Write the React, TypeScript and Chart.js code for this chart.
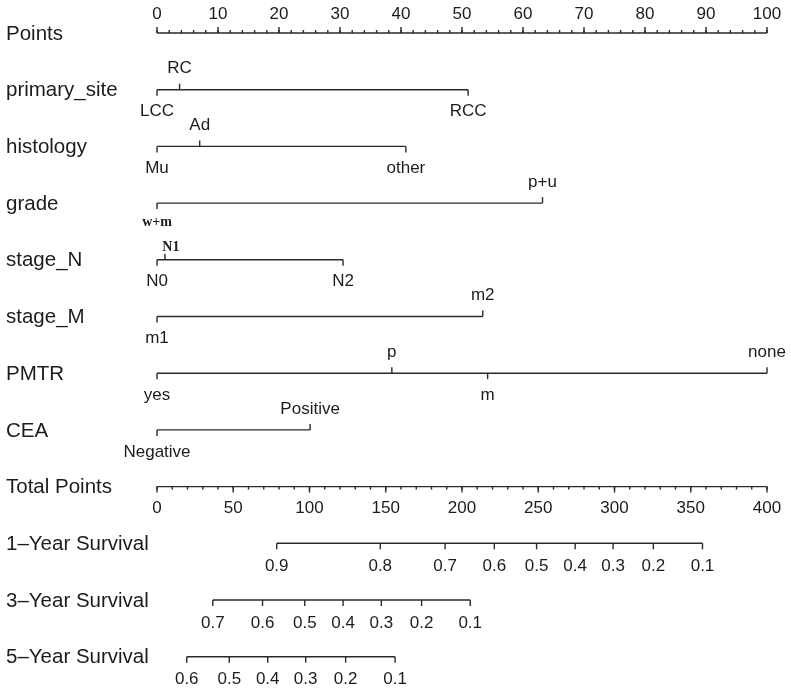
import React, { useEffect, useRef } from "react";
import { Chart, registerables } from "chart.js";

Chart.register(...registerables);

// ---- Row labels (one per nomogram row, top to bottom) ----
const rowLabels = [
  "Points",
  "primary_site",
  "histology",
  "grade",
  "stage_N",
  "stage_M",
  "PMTR",
  "CEA",
  "Total Points",
  "1–Year Survival",
  "3–Year Survival",
  "5–Year Survival",
];

// ---- Points scale ----
const pointsMajorTicks = [0, 10, 20, 30, 40, 50, 60, 70, 80, 90, 100];
const pointsMinorStep = 2;

// ---- Total points scale ----
const totalMajorTicks = [0, 50, 100, 150, 200, 250, 300, 350, 400];
const totalMinorStep = 10;

// ---- Predictor variables: levels and their points ----
const primarySiteLevels = ["LCC", "RC", "RCC"];
const primarySitePoints = [0, 3.7, 51.0];
const primarySiteSides = ["below", "above", "below"];

const histologyLevels = ["Mu", "Ad", "other"];
const histologyPoints = [0, 7.0, 40.8];
const histologySides = ["below", "above", "below"];

const gradeLevels = ["w+m", "p+u"];
const gradePoints = [0, 63.2];
const gradeSides = ["below", "above"];

const stageNLevels = ["N0", "N1", "N2"];
const stageNPoints = [0, 1.3, 30.5];
const stageNSides = ["below", "above", "below"];

const stageMLevels = ["m1", "m2"];
const stageMPoints = [0, 53.4];
const stageMSides = ["below", "above"];

const pmtrLevels = ["yes", "p", "m", "none"];
const pmtrPoints = [0, 38.5, 54.2, 100];
const pmtrSides = ["below", "above", "below", "above"];

const ceaLevels = ["Negative", "Positive"];
const ceaPoints = [0, 25.1];
const ceaSides = ["below", "above"];

// labels printed in bold serif in the original figure
const boldSerifLabels = ["w+m", "N1"];

// ---- Survival probabilities vs total points ----
const surv1Probs = ["0.9", "0.8", "0.7", "0.6", "0.5", "0.4", "0.3", "0.2", "0.1"];
const surv1Total = [78.5, 146.4, 188.9, 221.2, 248.9, 274.2, 299.1, 325.5, 357.7];

const surv3Probs = ["0.7", "0.6", "0.5", "0.4", "0.3", "0.2", "0.1"];
const surv3Total = [36.6, 69.2, 96.9, 122.0, 147.1, 173.5, 205.4];

const surv5Probs = ["0.6", "0.5", "0.4", "0.3", "0.2", "0.1"];
const surv5Total = [19.5, 47.4, 72.6, 97.5, 123.7, 156.1];

const variables = [
  { row: 1, levels: primarySiteLevels, points: primarySitePoints, sides: primarySiteSides },
  { row: 2, levels: histologyLevels, points: histologyPoints, sides: histologySides },
  { row: 3, levels: gradeLevels, points: gradePoints, sides: gradeSides },
  { row: 4, levels: stageNLevels, points: stageNPoints, sides: stageNSides },
  { row: 5, levels: stageMLevels, points: stageMPoints, sides: stageMSides },
  { row: 6, levels: pmtrLevels, points: pmtrPoints, sides: pmtrSides },
  { row: 7, levels: ceaLevels, points: ceaPoints, sides: ceaSides },
];

const survivals = [
  { row: 9, labels: surv1Probs, total: surv1Total },
  { row: 10, labels: surv3Probs, total: surv3Total },
  { row: 11, labels: surv5Probs, total: surv5Total },
];

const SANS = '"Liberation Sans", Arial, Helvetica, sans-serif';
const SERIF = '"Liberation Serif", "Times New Roman", serif';
const INK = "#1c1c1c";
const LINE = "#2a2a2a";

const nomogramPlugin = {
  id: "nomogram",
  afterDraw(chart: any) {
    const ctx: CanvasRenderingContext2D = chart.ctx;
    const xs = chart.scales.x;
    const xt = chart.scales.x2;
    const ys = chart.scales.y;
    const tickLen = 6;
    const minorLen = 3;

    ctx.save();
    ctx.strokeStyle = LINE;
    ctx.fillStyle = INK;
    ctx.lineWidth = 1.4;
    ctx.lineCap = "butt";

    const hline = (a: number, b: number, y: number) => {
      ctx.beginPath();
      ctx.moveTo(a, y);
      ctx.lineTo(b, y);
      ctx.stroke();
    };
    const vline = (x: number, y0: number, y1: number) => {
      ctx.beginPath();
      ctx.moveTo(x, y0);
      ctx.lineTo(x, y1);
      ctx.stroke();
    };
    const text = (s: string, x: number, y: number, font: string, align: CanvasTextAlign = "center") => {
      ctx.font = font;
      ctx.textAlign = align;
      ctx.textBaseline = "middle";
      ctx.fillText(s, x, y);
    };
    const tickFont = `17px ${SANS}`;

    // Row labels
    rowLabels.forEach((lab, i) => {
      text(lab, 6, ys.getPixelForValue(i) + 1, `20.5px ${SANS}`, "left");
    });

    // Points axis (row 0): ticks up, labels above
    {
      const y = ys.getPixelForValue(0);
      const lo = pointsMajorTicks[0];
      const hi = pointsMajorTicks[pointsMajorTicks.length - 1];
      hline(xs.getPixelForValue(lo), xs.getPixelForValue(hi), y);
      for (let v = lo; v <= hi + 1e-9; v += pointsMinorStep) {
        vline(xs.getPixelForValue(v), y, y - minorLen);
      }
      pointsMajorTicks.forEach((v) => {
        const px = xs.getPixelForValue(v);
        vline(px, y, y - tickLen);
        text(String(v), px, y - 19, tickFont);
      });
    }

    // Variables
    variables.forEach((vr) => {
      const y = ys.getPixelForValue(vr.row);
      const minP = Math.min(...vr.points);
      const maxP = Math.max(...vr.points);
      hline(xs.getPixelForValue(minP), xs.getPixelForValue(maxP), y);
      vr.levels.forEach((lab, k) => {
        const px = xs.getPixelForValue(vr.points[k]);
        const up = vr.sides[k] === "above";
        vline(px, y, up ? y - tickLen : y + tickLen);
        const bold = boldSerifLabels.includes(lab);
        const font = bold ? `bold 14px ${SERIF}` : tickFont;
        const ty = up ? y - (bold ? 12 : 21) : y + (bold ? 19 : 22);
        text(lab, px + (bold && up ? 6 : 0), ty, font);
      });
    });

    // Total points axis (row 8): ticks down, labels below
    {
      const y = ys.getPixelForValue(8);
      const lo = totalMajorTicks[0];
      const hi = totalMajorTicks[totalMajorTicks.length - 1];
      hline(xt.getPixelForValue(lo), xt.getPixelForValue(hi), y);
      for (let v = lo; v <= hi + 1e-9; v += totalMinorStep) {
        vline(xt.getPixelForValue(v), y, y + minorLen);
      }
      totalMajorTicks.forEach((v) => {
        const px = xt.getPixelForValue(v);
        vline(px, y, y + tickLen);
        text(String(v), px, y + 22, tickFont);
      });
    }

    // Survival axes
    survivals.forEach((sv) => {
      const y = ys.getPixelForValue(sv.row);
      const minT = Math.min(...sv.total);
      const maxT = Math.max(...sv.total);
      hline(xt.getPixelForValue(minT), xt.getPixelForValue(maxT), y);
      sv.total.forEach((t, k) => {
        const px = xt.getPixelForValue(t);
        vline(px, y, y + tickLen);
        text(sv.labels[k], px, y + 23, tickFont);
      });
    });

    ctx.restore();
  },
};

export default function App() {
  const ref = useRef<HTMLCanvasElement | null>(null);

  useEffect(() => {
    if (!ref.current) return;
    const rowTop = -0.582;
    const rowBottom = rowTop + 690 / 56.7;
    const chart = new Chart(ref.current, {
      type: "scatter",
      data: { datasets: [] },
      options: {
        animation: false,
        responsive: false,
        events: [],
        layout: { padding: { left: 157, right: 24, top: 0, bottom: 0 } },
        plugins: { legend: { display: false }, tooltip: { enabled: false }, title: { display: false } },
        scales: {
          x: { type: "linear", min: 0, max: 100, display: false },
          x2: { type: "linear", axis: "x", min: 0, max: 400, display: false },
          y: { type: "linear", min: rowTop, max: rowBottom, reverse: true, display: false },
        },
      },
      plugins: [nomogramPlugin],
    } as any);
    return () => chart.destroy();
  }, []);

  return (
    <canvas
      ref={ref}
      width={791}
      height={690}
      style={{ position: "absolute", left: 0, top: 0, width: 791, height: 690, background: "#fff" }}
    />
  );
}
